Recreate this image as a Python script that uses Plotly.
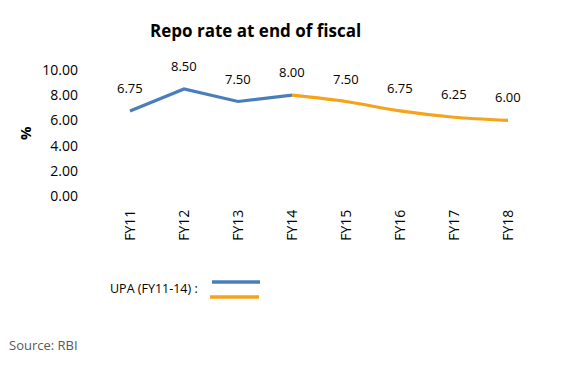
import plotly.graph_objects as go

years = ["FY11", "FY12", "FY13", "FY14", "FY15", "FY16", "FY17", "FY18"]
upa_years = ["FY11", "FY12", "FY13", "FY14"]
upa_values = [6.75, 8.50, 7.50, 8.00]
nda_years = ["FY14", "FY15", "FY16", "FY17", "FY18"]
nda_values = [8.00, 7.50, 6.75, 6.25, 6.00]
label_years = years
label_values = [6.75, 8.50, 7.50, 8.00, 7.50, 6.75, 6.25, 6.00]
y_ticks = [0, 2, 4, 6, 8, 10]

BLUE = "#4A7EBB"
ORANGE = "#F5A31A"
FONT = "Open Sans"

# screen layout (page body has an 8px margin)
PL, PR, PT, PB = 103, 535, 70, 196


def px_x(p):
    return (p - PL) / (PR - PL)


def px_y(p):
    return (PB - p) / (PB - PT)


fig = go.Figure()
fig.add_trace(go.Scatter(x=upa_years, y=upa_values, mode="lines",
                         line=dict(color=BLUE, width=3.2), showlegend=False, hoverinfo="skip"))
fig.add_trace(go.Scatter(x=nda_years, y=nda_values, mode="lines",
                         line=dict(color=ORANGE, width=3.2, shape="spline", smoothing=0.8),
                         showlegend=False, hoverinfo="skip"))

annotations = []
for yr, v in zip(label_years, label_values):
    annotations.append(dict(x=yr, y=v, xref="x", yref="y", text=f"{v:.2f}", showarrow=False,
                            yshift=23, font=dict(family=FONT, size=13, color="#000000")))

annotations += [
    dict(text="<b>Repo rate at end of fiscal</b>", x=px_x(255), y=px_y(30), xref="paper", yref="paper",
         xanchor="center", yanchor="middle", showarrow=False, font=dict(family=FONT, size=17, color="#000")),
    dict(text="<b>%</b>", x=px_x(25), y=px_y(133), xref="paper", yref="paper", textangle=-90,
         xanchor="center", yanchor="middle", showarrow=False, font=dict(family=FONT, size=15, color="#000")),
    dict(text="UPA (FY11-14) :", x=px_x(108), y=px_y(288), xref="paper", yref="paper",
         xanchor="left", yanchor="middle", showarrow=False, font=dict(family=FONT, size=12.5, color="#000")),
    dict(text="Source: RBI", x=px_x(7), y=px_y(345), xref="paper", yref="paper",
         xanchor="left", yanchor="middle", showarrow=False, font=dict(family=FONT, size=13, color="#595959")),
]

shapes = [
    dict(type="line", xref="paper", yref="paper", x0=px_x(212), x1=px_x(260), y0=px_y(282), y1=px_y(282),
         line=dict(color=BLUE, width=3.5)),
    dict(type="line", xref="paper", yref="paper", x0=px_x(210), x1=px_x(259), y0=px_y(297), y1=px_y(297),
         line=dict(color=ORANGE, width=3.5)),
]

W, H = 580, 373
fig.update_layout(
    width=W, height=H,
    margin=dict(l=PL - 8, r=W - (PR - 8), t=PT - 8, b=H - (PB - 8)),
    paper_bgcolor="white", plot_bgcolor="white",
    font=dict(family=FONT, size=14, color="#000"),
    annotations=annotations, shapes=shapes,
    xaxis=dict(type="category", categoryorder="array", categoryarray=years, range=[-0.5, 7.5],
               showgrid=False, showline=False, zeroline=False, ticks="", tickangle=-90,
               ticklabelstandoff=10, tickfont=dict(family=FONT, size=14, color="#000")),
    yaxis=dict(range=[0, 10], tickvals=y_ticks, tickformat=".2f", showgrid=False, showline=False,
               zeroline=False, ticks="", ticklabelstandoff=24,
               tickfont=dict(family=FONT, size=14, color="#000")),
)

fig.write_html("out.html")
